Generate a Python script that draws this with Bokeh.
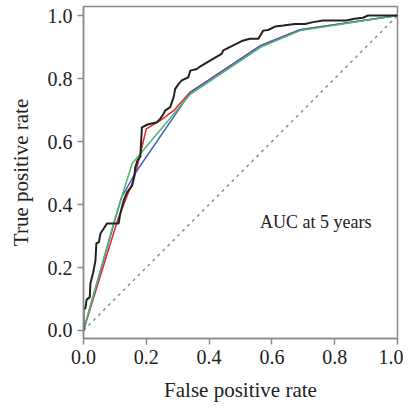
from bokeh.plotting import figure
from bokeh.models import Range1d, FixedTicker, PrintfTickFormatter, Label
from bokeh.embed import file_html
from bokeh.resources import INLINE

# Data
black_fpr = [0, 0, 0.006, 0.01, 0.02, 0.022, 0.031, 0.038, 0.041, 0.049, 0.054, 0.064, 0.075,
             0.112, 0.117, 0.128, 0.139, 0.155, 0.162, 0.165, 0.172, 0.181, 0.186, 0.204, 0.234,
             0.244, 0.255, 0.26, 0.276, 0.287, 0.292, 0.303, 0.313, 0.334, 0.34, 0.361, 0.371,
             0.403, 0.44, 0.445, 0.477, 0.504, 0.53, 0.557, 0.572, 0.588, 0.61, 0.636, 0.673,
             0.705, 0.731, 0.763, 0.837, 0.863, 0.89, 0.906, 1.0]
black_tpr = [0, 0.07, 0.07, 0.098, 0.106, 0.149, 0.185, 0.222, 0.277, 0.28, 0.308, 0.323, 0.34,
             0.34, 0.371, 0.413, 0.439, 0.46, 0.492, 0.518, 0.54, 0.552, 0.645, 0.654, 0.661,
             0.672, 0.688, 0.698, 0.709, 0.74, 0.767, 0.783, 0.794, 0.804, 0.825, 0.83, 0.838,
             0.857, 0.878, 0.889, 0.905, 0.919, 0.926, 0.926, 0.952, 0.954, 0.965, 0.968, 0.973,
             0.973, 0.979, 0.984, 0.984, 0.99, 0.993, 1.0, 1.0]

red_fpr = [0, 0.11, 0.16, 0.176, 0.2, 0.245, 0.287, 0.34, 0.565, 0.69, 1.0]
red_tpr = [0, 0.355, 0.48, 0.54, 0.64, 0.667, 0.698, 0.757, 0.905, 0.955, 1.0]

blue_fpr = [0, 0.12, 0.165, 0.34, 0.565, 0.69, 1.0]
blue_tpr = [0, 0.42, 0.5, 0.755, 0.905, 0.955, 1.0]

green_fpr = [0, 0.1, 0.155, 0.34, 0.565, 0.69, 1.0]
green_tpr = [0, 0.355, 0.53, 0.75, 0.9, 0.952, 1.0]

diag = [0, 1]
ticks = [0.0, 0.2, 0.4, 0.6, 0.8, 1.0]

FONT = "Liberation Serif"
GRAY = "#8a8a8a"

p = figure(width=403, height=404, output_backend="svg", toolbar_location=None,
           x_range=Range1d(0, 1), y_range=Range1d(-0.0254, 1.0286),
           min_border_left=83, min_border_right=6, min_border_top=6, min_border_bottom=66)

p.xgrid.visible = False
p.ygrid.visible = False
p.outline_line_color = GRAY
p.outline_line_width = 1.5
p.background_fill_color = "white"
p.border_fill_color = "white"

for ax in (p.xaxis[0], p.yaxis[0]):
    ax.ticker = FixedTicker(ticks=ticks)
    ax.formatter = PrintfTickFormatter(format="%.1f")
    ax.minor_tick_line_color = None
    ax.axis_line_color = GRAY
    ax.axis_line_width = 1.5
    ax.major_tick_line_color = GRAY
    ax.major_tick_line_width = 1.5
    ax.major_tick_out = 6
    ax.major_tick_in = 0
    ax.major_label_text_font = FONT
    ax.major_label_text_font_size = "20px"
    ax.major_label_text_color = "#222222"
    ax.axis_label_text_font = FONT
    ax.axis_label_text_font_size = "21px"
    ax.axis_label_text_font_style = "normal"
    ax.axis_label_text_color = "#222222"

p.xaxis.axis_label = "False positive rate"
p.yaxis.axis_label = "True positive rate"
p.xaxis.major_label_standoff = 5
p.yaxis.major_label_standoff = 5
p.xaxis.axis_label_standoff = 11
p.yaxis.axis_label_standoff = 12

p.line(diag, diag, line_color="#8c8c8c", line_width=1.5, line_dash="3 4")
p.line(red_fpr, red_tpr, line_color="#e8252b", line_width=1.5)
p.line(blue_fpr, blue_tpr, line_color="#4a5cc8", line_width=1.5)
p.line(green_fpr, green_tpr, line_color="#4cb86a", line_width=1.5)
p.line(black_fpr, black_tpr, line_color="#222222", line_width=2)

p.add_layout(Label(x=0.562, y=0.343, text="AUC at 5 years", text_font=FONT,
                   text_font_size="18px", text_color="#222222", text_baseline="alphabetic"))

open("out.html", "w").write(file_html(p, INLINE))
